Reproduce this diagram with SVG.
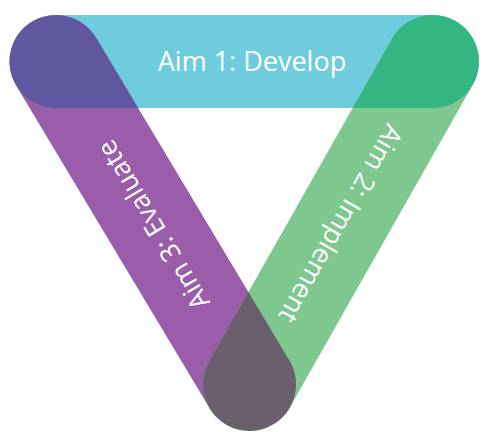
<svg xmlns="http://www.w3.org/2000/svg" width="484" height="432" viewBox="0 0 484 432">
  <style>
    .lbl { font-family: "Open Sans", "Liberation Sans", sans-serif; font-size: 27px; font-weight: 500; fill: #ffffff; text-anchor: middle; }
  </style>
  <defs>
    <rect id="top" x="-46.5" y="-46.5" width="469.5" height="93" rx="46.5" transform="translate(56 61.5)"/>
    <rect id="left" x="-46.5" y="-46.5" width="469.5" height="93" rx="46.5" transform="translate(56 61.5) rotate(59.07)"/>
    <rect id="right" x="-46.5" y="-46.5" width="464.2" height="93" rx="46.5" transform="translate(432.5 61.5) rotate(119.54)"/>
    <clipPath id="clipTop"><use href="#top"/></clipPath>
    <clipPath id="clipRight"><use href="#right"/></clipPath>
  </defs>
  <rect width="484" height="432" fill="#ffffff"/>
  <g id="aim1">
    <use href="#top" fill="#6ECCDD"/>
  </g>
  <g id="aim3">
    <use href="#left" fill="#9A5DAA"/>
  </g>
  <g id="aim2">
    <use href="#right" fill="#7EC78F"/>
  </g>
  <g id="overlaps">
    <use href="#left" fill="#5F58A0" clip-path="url(#clipTop)"/>
    <use href="#right" fill="#33B682" clip-path="url(#clipTop)"/>
    <g clip-path="url(#clipRight)">
      <use href="#left" fill="#6B5E6E"/>
    </g>
  </g>
  <g id="labels">
    <text class="lbl" x="252" y="71">Aim 1: Develop</text>
    <text class="lbl" transform="translate(153 225) rotate(-120.93)" x="0" y="9.6">Aim 3: Evaluate</text>
    <text class="lbl" transform="translate(341 224) rotate(119.54)" x="0" y="9.6">Aim 2: Implement</text>
  </g>
</svg>
